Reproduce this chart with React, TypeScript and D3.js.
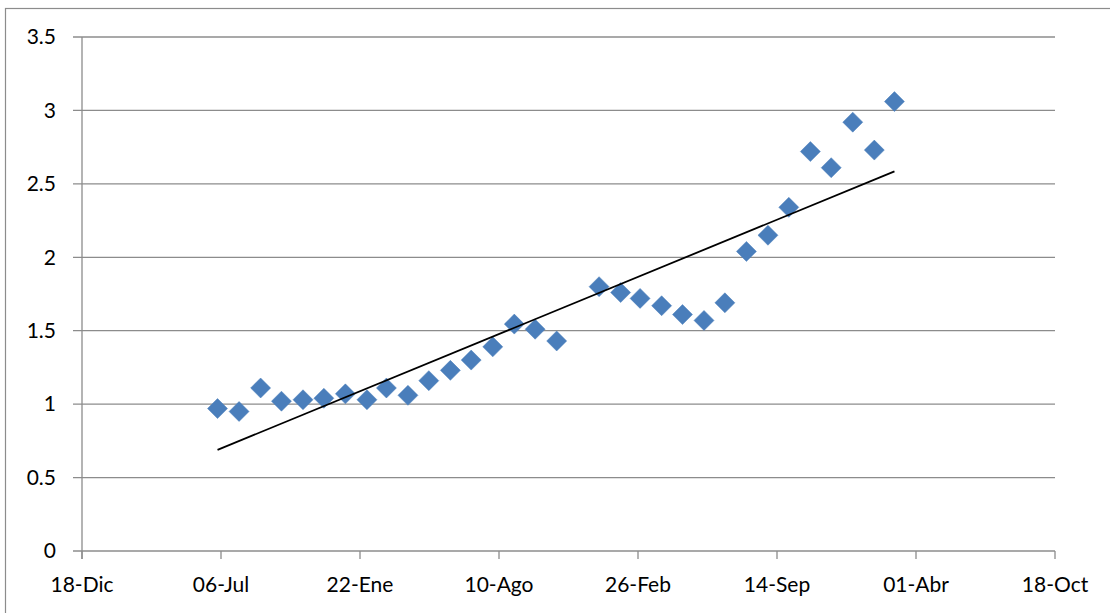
import React from "react";
import * as d3 from "d3";

const monthLabels: string[] = [
  "2009-07-01","2009-08-01","2009-09-01","2009-10-01","2009-11-01","2009-12-01",
  "2010-01-01","2010-02-01","2010-03-01","2010-04-01","2010-05-01","2010-06-01",
  "2010-07-01","2010-08-01","2010-09-01","2010-10-01","2010-11-01",
  "2011-01-01","2011-02-01","2011-03-01","2011-04-01","2011-05-01","2011-06-01",
  "2011-07-01","2011-08-01","2011-09-01","2011-10-01","2011-11-01","2011-12-01",
  "2012-01-01","2012-02-01","2012-03-01",
];
const values: number[] = [
  0.97, 0.95, 1.11, 1.02, 1.03, 1.04,
  1.07, 1.03, 1.11, 1.06, 1.16, 1.23,
  1.30, 1.39, 1.545, 1.51, 1.43,
  1.80, 1.76, 1.72, 1.67, 1.61, 1.57,
  1.69, 2.04, 2.15, 2.34, 2.72, 2.61,
  2.92, 2.73, 3.06,
];
const xTickDates: string[] = [
  "2008-12-18","2009-07-06","2010-01-22","2010-08-10","2011-02-26","2011-09-14","2012-04-01","2012-10-18",
];
const xTickLabels: string[] = ["18-Dic","06-Jul","22-Ene","10-Ago","26-Feb","14-Sep","01-Abr","18-Oct"];
const yTicks: number[] = [0, 0.5, 1, 1.5, 2, 2.5, 3, 3.5];

const parse = (s: string) => new Date(s + "T00:00:00Z");

export default function App() {
  const W = 1110, H = 613;
  const left = 82, right = 1055, top = 37, bottom = 551;
  const x = d3.scaleUtc().domain([parse(xTickDates[0]), parse(xTickDates[xTickDates.length - 1])]).range([left, right]);
  const y = d3.scaleLinear().domain([0, 3.5]).range([bottom, top]);

  const pts = monthLabels.map((d, i) => ({ t: parse(d), v: values[i] }));
  // least squares trend line (Excel linear trendline)
  const xs = pts.map(p => p.t.getTime());
  const mx = d3.mean(xs)!;
  const my = d3.mean(values)!;
  let num = 0, den = 0;
  pts.forEach(p => { num += (p.t.getTime() - mx) * (p.v - my); den += (p.t.getTime() - mx) ** 2; });
  const slope = num / den;
  const b = my - slope * mx;
  const x0 = xs[0], x1 = xs[xs.length - 1];

  const font = "Lato, 'Open Sans', sans-serif";
  const grid = "#8c8c8c";
  const s = 10;

  return (
    <svg width={W} height={H} style={{ position: "absolute", left: 0, top: 0, background: "#fff" }}>
      <rect x={5.5} y={8.5} width={W + 10} height={H + 10} fill="#fff" stroke="#8c8c8c" strokeWidth={1.2} />
      {yTicks.map(t => (
        <g key={t}>
          <line x1={73} x2={right} y1={y(t)} y2={y(t)} stroke={grid} strokeWidth={1.3} />
          <text x={56} y={y(t)} dy="0.35em" textAnchor="end" fontFamily={font} fontSize={21} fill="#000">{t}</text>
        </g>
      ))}
      <line x1={left} x2={left} y1={top} y2={bottom + 8} stroke={grid} strokeWidth={1.3} />
      {xTickDates.map((d, i) => (
        <g key={d}>
          <line x1={x(parse(d))} x2={x(parse(d))} y1={bottom} y2={bottom + 8} stroke={grid} strokeWidth={1.3} />
          <text x={x(parse(d))} y={592} textAnchor="middle" fontFamily={font} fontSize={21} fill="#000">{xTickLabels[i]}</text>
        </g>
      ))}
      {pts.map((p, i) => {
        const cx = x(p.t), cy = y(p.v);
        return (
          <path key={i} d={`M${cx},${cy - s}L${cx + s},${cy}L${cx},${cy + s}L${cx - s},${cy}Z`} fill="#4a7ebb" stroke="#4a7ebb" strokeWidth={0.5} />
        );
      })}
      <line x1={x(new Date(x0))} y1={y(slope * x0 + b)} x2={x(new Date(x1))} y2={y(slope * x1 + b)} stroke="#000" strokeWidth={1.8} />
    </svg>
  );
}
